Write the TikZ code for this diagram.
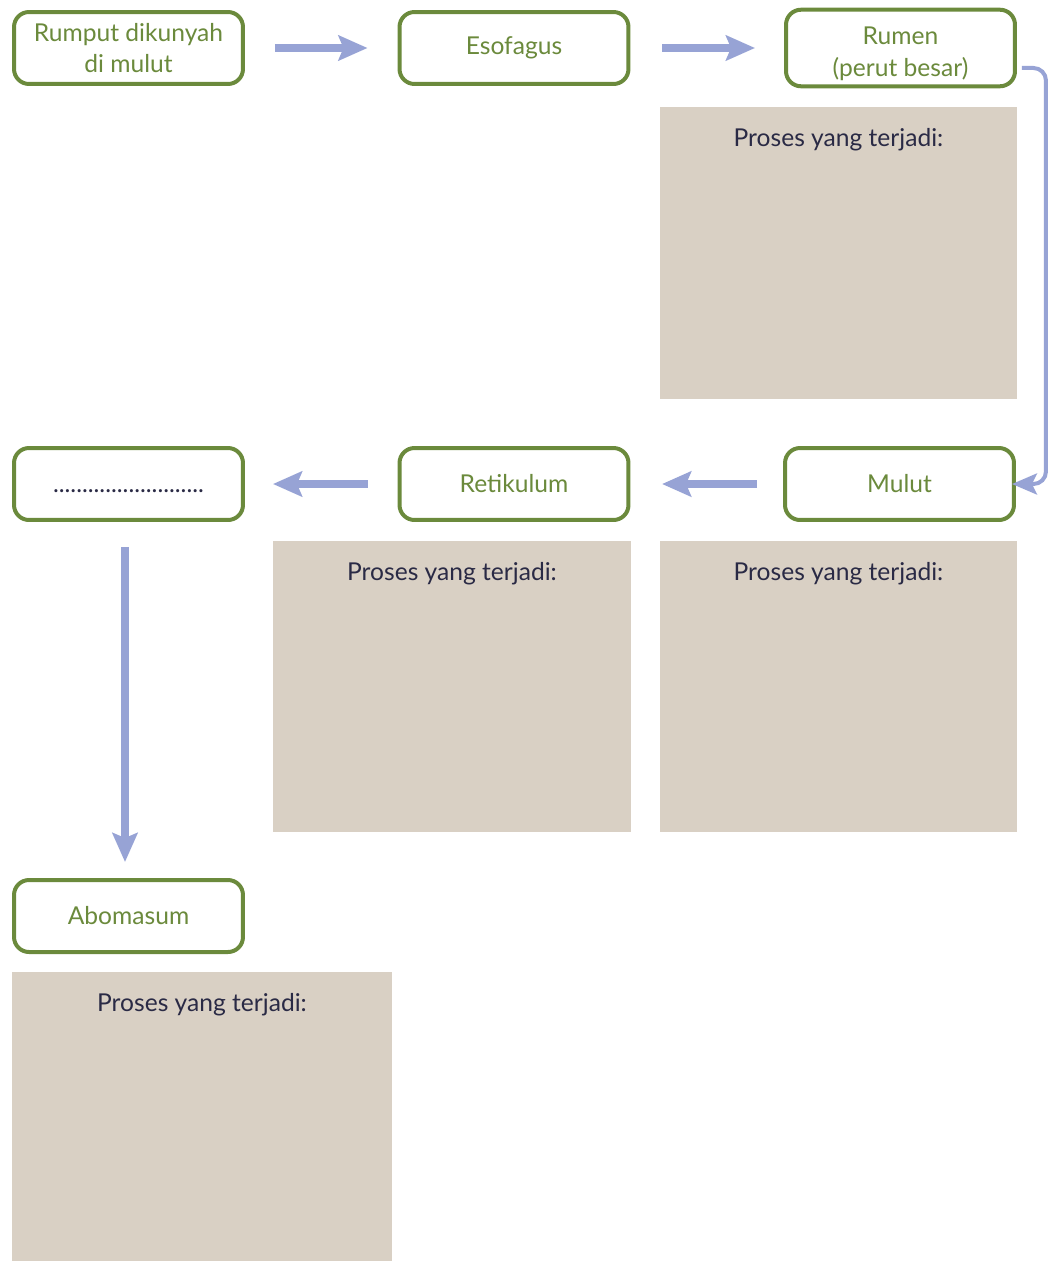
\documentclass[tikz,border=0pt]{standalone}
\usepackage{fontspec}
\setmainfont{Lato}
\usetikzlibrary{arrows.meta}

\definecolor{leaf}{HTML}{6B8A3C}
\definecolor{sand}{HTML}{D9D0C4}
\definecolor{flow}{HTML}{97A3D5}
\definecolor{ink}{HTML}{2A2A45}

\tikzset{
  organ/.style={draw=leaf, line width=0.08cm, rounded corners=0.3cm, fill=white,
    minimum width=4.58cm, minimum height=1.44cm, align=center, text=leaf,
    font=\fontsize{14}{18}\selectfont},
  procbox/.style={fill=sand, inner sep=0pt},
  proctext/.style={text=ink, font=\fontsize{14}{16}\selectfont},
  bigarrow/.style={flow, line width=0.16cm, -{Stealth[length=0.58cm, width=0.5cm, inset=0.1cm]}},
  thinarrow/.style={flow, line width=0.08cm, rounded corners=0.25cm, -{Stealth[length=0.5cm, width=0.42cm, inset=0.1cm]}}
}

\begin{document}
\begin{tikzpicture}[x=0.02cm, y=-0.02cm]
      \useasboundingbox (0,0) rectangle (1049,1261);

      % organ boxes
      \node[organ] (mouth) at (128.5, 48) {Rumput dikunyah\\di mulut};
      \node[organ] (esofagus) at (514, 48) {Esofagus};
      \node[organ] (rumen) at (900.5, 48) {\rule{0pt}{0.58cm}Rumen\\(perut besar)};
      \node[organ] (mulut) at (899.5, 484) {Mulut};
      \node[organ] (retikulum) at (514, 484) {Retikulum};
      \node[organ] (blank) at (128.5, 484) {\vphantom{Mulut}\textcolor{ink}{..........................}};
      \node[organ] (abomasum) at (128.5, 916) {Abomasum};

      % process areas
      \node[procbox, minimum width=7.14cm, minimum height=5.84cm] (rumenp) at (838.5, 253) {};
      \node[procbox, minimum width=7.16cm, minimum height=5.82cm] (retikulump) at (452, 686.5) {};
      \node[procbox, minimum width=7.14cm, minimum height=5.82cm] (mulutp) at (838.5, 686.5) {};
      \node[procbox, minimum width=7.6cm, minimum height=5.8cm] (abomasump) at (202, 1117) {};

      \node[proctext] (rumenpt) at ([yshift=-0.66cm]rumenp.north) {Proses yang terjadi:};
      \node[proctext] (retikulumpt) at ([yshift=-0.66cm]retikulump.north) {Proses yang terjadi:};
      \node[proctext] (mulutpt) at ([yshift=-0.66cm]mulutp.north) {Proses yang terjadi:};
      \node[proctext] (abomasumpt) at ([yshift=-0.66cm]abomasump.north) {Proses yang terjadi:};

      % flow
      \draw[bigarrow] ([xshift=0.6cm]mouth.east) -- ([xshift=-0.6cm]esofagus.west);
      \draw[bigarrow] ([xshift=0.64cm]esofagus.east) -- ([xshift=-0.58cm]rumen.west);
      \draw[thinarrow] ([xshift=0.1cm, yshift=-0.4cm]rumen.east) -| ([xshift=0.6cm]mulut.east) -- ([xshift=-0.08cm]mulut.east);
      \draw[bigarrow] ([xshift=-0.52cm]mulut.west) -- ([xshift=-2.42cm]mulut.west);
      \draw[bigarrow] ([xshift=-0.6cm]retikulum.west) -- ([xshift=0.56cm]blank.east);
      \draw[bigarrow] ([xshift=-0.07cm, yshift=-0.5cm]blank.south) -- ([xshift=-0.07cm, yshift=0.32cm]abomasum.north);
    \end{tikzpicture}
\end{document}
